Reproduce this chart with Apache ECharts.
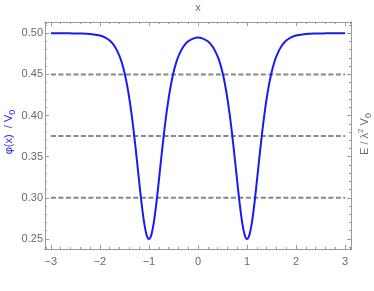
<!DOCTYPE html>
<html>
<head>
<meta charset="utf-8">
<script src="https://cdn.jsdelivr.net/npm/echarts@6/dist/echarts.min.js"></script>
<style>html,body{margin:0;padding:0;background:#fff}#c{width:374px;height:291px}</style>
</head>
<body>
<div id="c"></div>
<script>
// x positions and potential values
var xs = [-3, -2.8, -2.6, -2.4, -2.2, -2.0, -1.9, -1.8, -1.7, -1.6, -1.55, -1.5, -1.45, -1.4, -1.35, -1.3, -1.25, -1.2, -1.15, -1.1, -1.05, -1.0,
  -0.95, -0.9, -0.85, -0.8, -0.75, -0.7, -0.65, -0.6, -0.55, -0.5, -0.45, -0.4, -0.3, -0.2, -0.1, 0,
  0.1, 0.2, 0.3, 0.4, 0.45, 0.5, 0.55, 0.6, 0.65, 0.7, 0.75, 0.8, 0.85, 0.9, 0.95, 1.0,
  1.05, 1.1, 1.15, 1.2, 1.25, 1.3, 1.35, 1.4, 1.45, 1.5, 1.55, 1.6, 1.7, 1.8, 1.9, 2.0, 2.2, 2.4, 2.6, 2.8, 3];
var phi = [0.5000, 0.5000, 0.4999, 0.4997, 0.4991, 0.4972, 0.4950, 0.4911, 0.4842, 0.4723, 0.4636, 0.4524, 0.4382, 0.4207, 0.3996, 0.3751, 0.3480, 0.3199, 0.2930, 0.2704, 0.2553, 0.2500,
  0.2553, 0.2704, 0.2930, 0.3199, 0.3480, 0.3751, 0.3995, 0.4206, 0.4381, 0.4522, 0.4634, 0.4720, 0.4837, 0.4902, 0.4935, 0.4950,
  0.4935, 0.4902, 0.4837, 0.4720, 0.4634, 0.4522, 0.4381, 0.4206, 0.3995, 0.3751, 0.3480, 0.3199, 0.2930, 0.2704, 0.2553, 0.2500,
  0.2553, 0.2704, 0.2930, 0.3199, 0.3480, 0.3751, 0.3996, 0.4207, 0.4382, 0.4524, 0.4636, 0.4723, 0.4842, 0.4911, 0.4950, 0.4972, 0.4991, 0.4997, 0.4999, 0.5000, 0.5000];
var energies = [0.45, 0.375, 0.30];
var energyX = [-3, 3];
var xTicks = [-3, -2, -1, 0, 1, 2, 3];
var xMinorTicks = [-3.1, -2.8, -2.6, -2.4, -2.2, -1.8, -1.6, -1.4, -1.2, -0.8, -0.6, -0.4, -0.2, 0.2, 0.4, 0.6, 0.8, 1.2, 1.4, 1.6, 1.8, 2.2, 2.4, 2.6, 2.8, 3.1];
var yTicks = [0.25, 0.30, 0.35, 0.40, 0.45, 0.50];
var yMinorTicks = [0.24, 0.26, 0.27, 0.28, 0.29, 0.31, 0.32, 0.33, 0.34, 0.36, 0.37, 0.38, 0.39, 0.41, 0.42, 0.43, 0.44, 0.46, 0.47, 0.48, 0.49, 0.51];

var XMIN = -3.12, XMAX = 3.12, YMIN = 0.2378, YMAX = 0.5137;
var axisCol = '#9a9a9a', labCol = '#6a6a6a', FONT = 'Liberation Sans';

function xAx(pos, vals, len, showLab) {
  return {
    type: 'value', position: pos, min: XMIN, max: XMAX,
    axisLine: { show: true, onZero: false, lineStyle: { color: axisCol, width: 1 } },
    axisTick: { show: true, inside: true, length: len, customValues: vals, lineStyle: { color: axisCol } },
    axisLabel: { show: showLab, customValues: vals, margin: 7, color: labCol, fontSize: 11, fontFamily: FONT,
      formatter: function (v) { return v < 0 ? '\u2212' + Math.abs(v) : String(v); } },
    splitLine: { show: false }
  };
}
function yAx(pos, vals, len, showLab) {
  return {
    type: 'value', position: pos, min: YMIN, max: YMAX,
    axisLine: { show: true, onZero: false, lineStyle: { color: axisCol, width: 1 } },
    axisTick: { show: true, inside: true, length: len, customValues: vals, lineStyle: { color: axisCol } },
    axisLabel: { show: showLab, customValues: vals, margin: 2, color: labCol, fontSize: 11, fontFamily: FONT,
      formatter: function (v) { return v.toFixed(2); } },
    splitLine: { show: false }
  };
}

var series = [];
energies.forEach(function (e) {
  series.push({
    type: 'line', xAxisIndex: 0, yAxisIndex: 0, symbol: 'none', silent: true,
    data: energyX.map(function (x) { return [x, e]; }),
    lineStyle: { color: '#888888', width: 2, type: [5, 2.5] }
  });
});
series.push({
  type: 'line', xAxisIndex: 0, yAxisIndex: 0, symbol: 'none', smooth: 0.3,
  data: xs.map(function (x, i) { return [x, phi[i]]; }),
  lineStyle: { color: '#1a1af5', width: 2 }
});

var chart = echarts.init(document.getElementById('c'), null, { renderer: 'canvas' });
chart.setOption({
  animation: false,
  backgroundColor: '#ffffff',
  grid: { left: 45, right: 23, top: 22, bottom: 42 },
  xAxis: [xAx('bottom', xTicks, 4, true), xAx('bottom', xMinorTicks, 2, false), xAx('top', xTicks, 4, false), xAx('top', xMinorTicks, 2, false)],
  yAxis: [yAx('left', yTicks, 4, true), yAx('left', yMinorTicks, 2, false), yAx('right', yTicks, 4, false), yAx('right', yMinorTicks, 2, false)],
  series: series,
  graphic: [
    { type: 'text', x: 198, y: 8, style: { text: 'x', fill: labCol, font: '11px ' + FONT, align: 'center', verticalAlign: 'middle' } },
    { type: 'text', x: 9, y: 132, rotation: Math.PI / 2,
      style: { text: '{a|\u03c6(x)  / V}{s|0}', align: 'center', verticalAlign: 'middle',
        rich: { a: { fill: '#2020ff', fontSize: 11, fontFamily: FONT, lineHeight: 16, verticalAlign: 'middle' },
                s: { fill: '#2020ff', fontSize: 9, fontFamily: FONT, lineHeight: 16, verticalAlign: 'bottom' } } } },
    { type: 'text', x: 365, y: 134, rotation: Math.PI / 2,
      style: { text: '{a|E / \u03bb}{p|2}{a| V}{s|0}', align: 'center', verticalAlign: 'middle',
        rich: { a: { fill: labCol, fontSize: 11, fontFamily: FONT, lineHeight: 16, verticalAlign: 'middle' },
                p: { fill: labCol, fontSize: 8, fontFamily: FONT, lineHeight: 16, verticalAlign: 'top' },
                s: { fill: labCol, fontSize: 9, fontFamily: FONT, lineHeight: 16, verticalAlign: 'bottom' } } } }
  ]
});
</script>
</body>
</html>
